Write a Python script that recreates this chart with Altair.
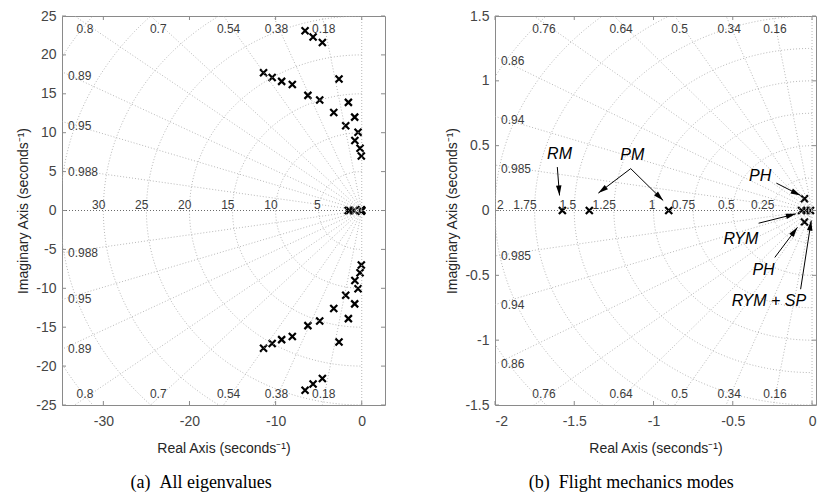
import math
import numpy as np
import pandas as pd
import altair as alt

# ---------------- data ----------------
# (a) aeroelastic eigenvalues, upper half plane (conjugates mirrored)
AERO_RE = [-6.58, -5.65, -4.57, -11.4, -10.4, -9.3, -8.06, -6.25, -4.88,
           -2.64, -1.55, -3.25, -0.82, -1.86, -0.43, -0.8, -0.2, -0.05]
AERO_IM = [23.1, 22.3, 21.6, 17.7, 17.1, 16.6, 16.2, 14.8, 14.2,
           16.9, 13.9, 12.6, 12.0, 10.9, 10.05, 9.0, 8.0, 7.0]
# flight mechanics modes (shown in both panels)
FLIGHT_RE = [-1.575, -1.405, -0.904, -0.066, -0.036, -0.01, -0.048, -0.048]
FLIGHT_IM = [0.0, 0.0, 0.0, 0.0, 0.0, 0.0, 0.09, -0.088]

ZETA_A = [0.18, 0.38, 0.54, 0.7, 0.8, 0.89, 0.95, 0.988]
WN_A = [5, 10, 15, 20, 25, 30, 35, 40]
ZETA_B = [0.16, 0.34, 0.5, 0.64, 0.76, 0.86, 0.94, 0.985]
WN_B = [0.25, 0.5, 0.75, 1, 1.25, 1.5, 1.75, 2, 2.25, 2.5]

XLIM_A = [-34.8, 2.7]
YLIM_A = [-25, 25]
XLIM_B = [-2, 0.025]
YLIM_B = [-1.5, 1.5]
XT_A = [-30, -20, -10, 0]
YT_A = [-25, -20, -15, -10, -5, 0, 5, 10, 15, 20, 25]
XT_B = [-2, -1.5, -1, -0.5, 0]
YT_B = [-1.5, -1, -0.5, 0, 0.5, 1, 1.5]

ANN_TEXT = ["RM", "PM", "PH", "RYM", "PH", "RYM + SP"]
ANN_X = [-1.593, -1.134, -0.327, -0.449, -0.306, -0.272]
ANN_Y = [0.433, 0.425, 0.263, -0.219, -0.459, -0.701]
ARR_X1 = [-1.607, -1.144, -1.144, -0.225, -0.337, -0.235, -0.072]
ARR_Y1 = [0.335, 0.323, 0.323, 0.211, -0.098, -0.362, -0.607]
ARR_X2 = [-1.593, -1.348, -0.939, -0.072, -0.102, -0.092, -0.005]
ARR_Y2 = [0.116, 0.134, 0.077, 0.116, -0.026, -0.13, -0.078]

SANS = "Liberation Sans"
SERIF = "Liberation Serif"
SPINE = "#8a8a8a"
GRIDC = "#b0b0b0"


def panel(xlim, ylim, W, H, zetas, wns, pts, xt, yt, caption, ann=None):
    sx = W / (xlim[1] - xlim[0])
    sy = H / (ylim[1] - ylim[0])
    xs = alt.Scale(domain=xlim, nice=False, zero=False)
    ys = alt.Scale(domain=ylim, nice=False, zero=False)
    R = 3 * max(abs(xlim[0]), ylim[1])

    rows = []
    for i, z in enumerate(zetas):
        s = math.sqrt(1 - z * z)
        for sg in (1, -1):
            rows.append(dict(g=f"z{i}_{sg}", k=0, x=0.0, y=0.0))
            rows.append(dict(g=f"z{i}_{sg}", k=1, x=-R * z, y=sg * R * s))
    th = np.linspace(math.pi / 2, 3 * math.pi / 2, 181)
    for w in wns:
        for j, t in enumerate(th):
            rows.append(dict(g=f"w{w}", k=j, x=w * math.cos(t), y=w * math.sin(t)))
    gdf = pd.DataFrame(rows)

    top, bot, lup, llo = [], [], [], []
    for z in zetas:
        s = math.sqrt(1 - z * z)
        xc = -ylim[1] * z / s
        lab = f"{z:g}"
        if xc >= xlim[0]:
            ya = ylim[1] - 7 / sy
            xa = -ya * z / s
            top.append(dict(x=xa, y=ylim[1], t=lab))
            bot.append(dict(x=xa, y=ylim[0], t=lab))
        else:
            yc = -xlim[0] * s / z
            lup.append(dict(x=xlim[0], y=yc, t=lab))
            llo.append(dict(x=xlim[0], y=-yc, t=lab))
    wl_in, wl_edge = [], []
    for w in wns:
        if -w > xlim[0] + 1e-9:
            wl_in.append(dict(x=-w, y=0.0, t=f"{w:g}"))
        elif abs(-w - xlim[0]) < 1e-9:
            wl_edge.append(dict(x=xlim[0], y=0.0, t=f"{w:g}"))

    common = dict(grid=False, ticks=False, domain=False,
                  labelFont=SANS, labelFontSize=14, labelColor="#454545",
                  titleFont=SANS, titleFontSize=14, titleFontWeight="normal",
                  titleColor="#262626", labelExpr="'' + datum.value")
    lx = alt.Axis(values=xt, title="Real Axis (seconds\u207b\u00b9)",
                  labelPadding=9, titlePadding=13, **common)
    ly = alt.Axis(values=yt, title="Imaginary Axis (seconds\u207b\u00b9)",
                  labelPadding=6, titlePadding=5, **common)

    X = lambda f="x": alt.X(f"{f}:Q", scale=xs, axis=lx)
    Y = lambda f="y": alt.Y(f"{f}:Q", scale=ys, axis=ly)

    pdf = pd.DataFrame(pts)
    points = alt.Chart(pdf).mark_point(
        shape="M-1,-1L1,1M-1,1L1,-1", size=49, strokeWidth=2.2,
        color="black", filled=False, clip=True, opacity=1
    ).encode(x=X(), y=Y())

    grid = alt.Chart(gdf).mark_line(clip=True, color=GRIDC, strokeWidth=0.9,
                                    strokeDash=[1, 2]).encode(
        x=X(), y=Y(), detail="g:N", order="k:Q")
    zero_df = pd.DataFrame({"v": [0.0]})
    raxis = alt.Chart(zero_df).mark_rule(color="#6a6a6a", strokeDash=[1, 2],
                                         strokeWidth=1).encode(y=Y("v"))
    iaxis = alt.Chart(zero_df).mark_rule(color=GRIDC, strokeDash=[1, 2],
                                         strokeWidth=0.9).encode(x=X("v"))

    tprops = dict(font=SANS, fontSize=12, color="#3c3c3c")
    L = [grid, raxis, iaxis]
    if top:
        L.append(alt.Chart(pd.DataFrame(top)).mark_text(baseline="middle", dy=13, **tprops)
                 .encode(x=X(), y=Y(), text="t:N"))
        L.append(alt.Chart(pd.DataFrame(bot)).mark_text(baseline="middle", dy=-11, **tprops)
                 .encode(x=X(), y=Y(), text="t:N"))
    if lup:
        L.append(alt.Chart(pd.DataFrame(lup)).mark_text(baseline="middle", align="left",
                                                        dx=6, dy=4, **tprops)
                 .encode(x=X(), y=Y(), text="t:N"))
        L.append(alt.Chart(pd.DataFrame(llo)).mark_text(baseline="middle", align="left",
                                                        dx=6, dy=0, **tprops)
                 .encode(x=X(), y=Y(), text="t:N"))
    if wl_in:
        L.append(alt.Chart(pd.DataFrame(wl_in)).mark_text(baseline="alphabetic", align="right",
                                                          dx=2, dy=-2, **tprops)
                 .encode(x=X(), y=Y(), text="t:N"))
    if wl_edge:
        L.append(alt.Chart(pd.DataFrame(wl_edge)).mark_text(baseline="alphabetic", align="left",
                                                            dx=2, dy=-2, **tprops)
                 .encode(x=X(), y=Y(), text="t:N"))

    # inward ticks on all four sides
    xtd = pd.DataFrame({"v": xt})
    ytd = pd.DataFrame({"v": yt})
    tk = dict(color=SPINE, strokeWidth=1)
    L.append(alt.Chart(xtd).mark_rule(**tk).encode(x=X("v"), y=alt.value(H), y2=alt.value(H - 4)))
    L.append(alt.Chart(xtd).mark_rule(**tk).encode(x=X("v"), y=alt.value(0), y2=alt.value(4)))
    L.append(alt.Chart(ytd).mark_rule(**tk).encode(y=Y("v"), x=alt.value(0), x2=alt.value(4)))
    L.append(alt.Chart(ytd).mark_rule(**tk).encode(y=Y("v"), x=alt.value(W), x2=alt.value(W - 4)))

    if ann is not None:
        adf, rdf = ann
        L.append(alt.Chart(rdf).mark_rule(color="black", strokeWidth=1).encode(
            x=X("x1"), y=Y("y1"), x2="x2:Q", y2="y2:Q"))
        ang = []
        for r in rdf.itertuples():
            dx = (r.x2 - r.x1) * sx
            dy = -(r.y2 - r.y1) * sy
            ang.append(math.degrees(math.atan2(dx, -dy)) % 360)
        hdf = rdf.assign(ang=ang)
        L.append(alt.Chart(hdf).mark_point(
            shape="M0,0L0.55,2L-0.55,2Z", size=100, filled=True, color="black",
            opacity=1, strokeWidth=0).encode(
            x=X("x2"), y=Y("y2"), angle=alt.Angle("ang:Q", scale=None)))
        L.append(alt.Chart(adf).mark_text(font=SANS, fontSize=16, fontStyle="italic",
                                          color="black", baseline="middle").encode(
            x=X(), y=Y(), text="t:N"))

    chart = alt.layer(points, *L).properties(
        width=W, height=H,
        title=alt.TitleParams(caption, orient="bottom", anchor="middle", frame="bounds",
                              font=SERIF, fontSize=18, fontWeight="normal",
                              color="black", offset=19))
    return chart


pts_a = {"x": AERO_RE + AERO_RE + FLIGHT_RE,
         "y": AERO_IM + [-v for v in AERO_IM] + FLIGHT_IM}
pts_b = {"x": FLIGHT_RE, "y": FLIGHT_IM}

ann_df = pd.DataFrame({"x": ANN_X, "y": ANN_Y, "t": ANN_TEXT})
arr_df = pd.DataFrame({"x1": ARR_X1, "y1": ARR_Y1, "x2": ARR_X2, "y2": ARR_Y2})

pa = panel(XLIM_A, YLIM_A, 323, 389, ZETA_A, WN_A, pts_a, XT_A, YT_A,
           "(a)\u00a0\u00a0All eigenvalues")
pb = panel(XLIM_B, YLIM_B, 321, 389, ZETA_B, WN_B, pts_b, XT_B, YT_B,
           "(b)\u00a0\u00a0Flight mechanics modes", ann=(ann_df, arr_df))

chart = alt.hconcat(pa, pb, spacing=59).properties(
    padding={"left": 8, "top": 0, "right": 0, "bottom": 0}
).configure(background="white").configure_view(stroke=SPINE, strokeWidth=1)

chart.save("out.html", embed_options={"renderer": "svg", "actions": False})
